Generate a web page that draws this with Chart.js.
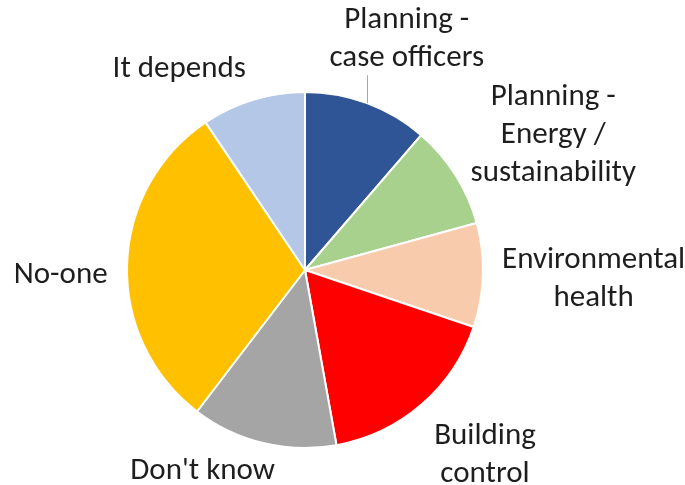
<!DOCTYPE html>
<html>
<head>
<meta charset="utf-8">
<title>Who is responsible?</title>
<script src="https://cdn.jsdelivr.net/npm/chart.js@4.4.1/dist/chart.umd.min.js"></script>
<style>
  html, body { margin: 0; padding: 0; background: #ffffff; }
  #wrap { width: 685px; height: 485px; position: relative; }
</style>
</head>
<body>
<div id="wrap"><canvas id="chart"></canvas></div>
<script>
// Survey responses
const categories = [
  ['Planning -', 'case officers'],
  ['Planning -', 'Energy /', 'sustainability'],
  ['Environmental', 'health'],
  ['Building', 'control'],
  ["Don't know"],
  ['No-one'],
  ['It depends']
];
const responses = [6, 5, 5, 9, 7, 16, 5];
const sliceColors = ['#2F5597', '#A9D18E', '#F8CBAD', '#FF0000', '#A5A5A5', '#FFC000', '#B4C7E7'];

// Where each category label sits around the pie: angle in degrees clockwise
// from 12 o'clock, and distance from the centre as a multiple of the radius.
const labelPlacement = [
  { angle: 23.7, dist: 1.422, leader: true },
  { angle: 61.3, dist: 1.590 },
  { angle: 91.6, dist: 1.622 },
  { angle: 135.7, dist: 1.448 },
  { angle: 207.1, dist: 1.263 },
  { angle: 269.1, dist: 1.373 },
  { angle: 328.1, dist: 1.337 }
];

const FONT = '31px Carlito, Calibri, Lato, sans-serif';
const LINE_HEIGHT = 38;

const outsideLabels = {
  id: 'outsideLabels',
  afterDatasetsDraw(chart) {
    const meta = chart.getDatasetMeta(0);
    const ctx = chart.ctx;
    const first = meta.data[0];
    const cx = first.x, cy = first.y, r = first.outerRadius;
    ctx.save();
    ctx.font = FONT;
    ctx.fillStyle = '#1e1e1e';
    ctx.textAlign = 'center';
    ctx.textBaseline = 'alphabetic';
    meta.data.forEach((arc, i) => {
      const p = labelPlacement[i];
      const a = p.angle * Math.PI / 180;
      const lx = cx + r * p.dist * Math.sin(a);
      const ly = cy - r * p.dist * Math.cos(a);
      const lines = categories[i];
      // baseline of the first line, so the block is centred on (lx, ly)
      const base = ly - (lines.length - 1) * LINE_HEIGHT / 2 + 9;
      lines.forEach((t, k) => ctx.fillText(t, lx, base + k * LINE_HEIGHT));
      if (p.leader) {
        // leader line from the slice edge straight up to the label
        const mid = (arc.startAngle + arc.endAngle) / 2;
        const ex = cx + r * Math.cos(mid);
        const ey = cy + r * Math.sin(mid);
        const bottom = ly + lines.length * LINE_HEIGHT / 2 - 1;
        ctx.strokeStyle = '#A6A6A6';
        ctx.lineWidth = 1;
        ctx.beginPath();
        ctx.moveTo(Math.round(ex) + 0.5, ey);
        ctx.lineTo(Math.round(ex) + 0.5, bottom);
        ctx.stroke();
      }
    });
    ctx.restore();
  }
};

new Chart(document.getElementById('chart'), {
  type: 'pie',
  data: {
    labels: categories.map(l => l.join(' ')),
    datasets: [{
      data: responses,
      backgroundColor: sliceColors,
      borderColor: '#ffffff',
      borderWidth: 2,
      hoverOffset: 0
    }]
  },
  options: {
    responsive: true,
    maintainAspectRatio: false,
    animation: false,
    layout: { padding: { top: 91, bottom: 36, left: 0, right: 75 } },
    plugins: {
      legend: { display: false },
      tooltip: { enabled: false }
    }
  },
  plugins: [outsideLabels]
});
</script>
</body>
</html>
